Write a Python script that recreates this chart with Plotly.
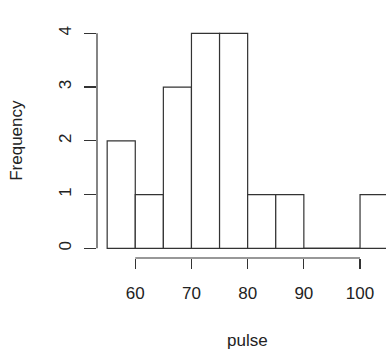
import plotly.graph_objects as go

bin_edges = [55, 60, 65, 70, 75, 80, 85, 90, 95, 100, 105]
counts = [2, 1, 3, 4, 4, 1, 1, 0, 0, 1]
x_ticks = [60, 70, 80, 90, 100]
y_ticks = [0, 1, 2, 3, 4]
x_title = "pulse"
y_title = "Frequency"

centers = [(a + b) / 2 for a, b in zip(bin_edges[:-1], bin_edges[1:])]
widths = [b - a for a, b in zip(bin_edges[:-1], bin_edges[1:])]

FONT = "Liberation Sans, Arial, sans-serif"
TXT = "#222222"
LINE = "#333333"

fig = go.Figure()
fig.add_trace(go.Bar(
    x=centers, y=counts, width=widths,
    marker=dict(color="white", line=dict(color=LINE, width=1.2)),
    showlegend=False, hoverinfo="skip",
))

shapes = []
# zero-height bins drawn as flat lines (as R does)
for a, b, c in zip(bin_edges[:-1], bin_edges[1:], counts):
    if c == 0:
        shapes.append(dict(type="line", xref="x", yref="y", x0=a, x1=b, y0=0, y1=0,
                           line=dict(color=LINE, width=1.2)))
shapes += [
    dict(type="line", xref="x", yref="paper", x0=x_ticks[0], x1=x_ticks[-1], y0=0, y1=0,
         line=dict(color=LINE, width=1.2)),
    dict(type="line", xref="paper", yref="y", x0=0, x1=0, y0=y_ticks[0], y1=y_ticks[-1],
         line=dict(color=LINE, width=1.2)),
]

fig.update_layout(
    width=386, height=353,
    margin=dict(l=97, r=0, t=20, b=95, autoexpand=False),
    paper_bgcolor="white", plot_bgcolor="white",
    font=dict(family=FONT, size=17, color=TXT),
    bargap=0,
    shapes=shapes,
    xaxis=dict(range=[53.19, 104.62], tickvals=x_ticks, ticks="outside", ticklen=10,
               tickwidth=1.2, tickcolor=LINE, showgrid=False, zeroline=False,
               showline=False, fixedrange=True, ticklabelstandoff=10, automargin=False),
    yaxis=dict(range=[-0.18, 4.247], tickvals=y_ticks, ticks="outside", ticklen=12,
               tickwidth=1.2, tickcolor=LINE, showgrid=False, zeroline=False,
               showline=False, tickangle=-90, fixedrange=True, ticklabelstandoff=6,
               automargin=False),
    annotations=[
        dict(text=x_title, xref="paper", yref="paper", x=(247 - 97) / 289, y=-(340 - 258) / 238,
             xanchor="center", yanchor="middle", showarrow=False,
             font=dict(family=FONT, size=17, color=TXT)),
        dict(text=y_title, xref="paper", yref="y", x=-(97 - 17) / 289, y=2.0,
             xanchor="center", yanchor="middle", showarrow=False, textangle=-90,
             font=dict(family=FONT, size=17, color=TXT)),
    ],
)

fig.write_html(
    "out.html",
    config={"displayModeBar": False, "staticPlot": True},
    post_script="document.body.style.margin='0';document.body.style.overflow='hidden';",
)
